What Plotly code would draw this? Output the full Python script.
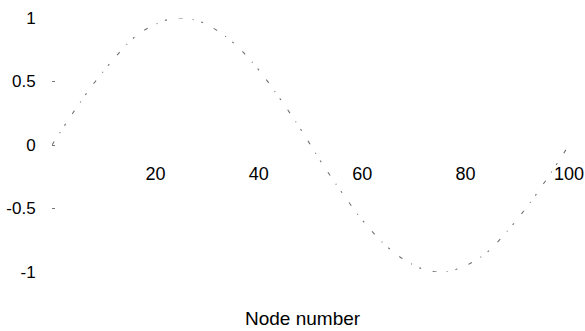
import plotly.graph_objects as go

# Node numbers and displacement values
nodes = [0, 4, 8, 12, 16, 20, 24, 28, 32, 36, 40, 44, 48, 52, 56, 60, 64, 68, 72, 76, 80, 84, 88, 92, 96, 100]
values = [0.0, 0.25, 0.48, 0.68, 0.85, 0.95, 1.0, 0.98, 0.9, 0.77, 0.59, 0.37, 0.13, -0.13, -0.37, -0.59, -0.77, -0.9, -0.98, -1.0, -0.95, -0.85, -0.68, -0.48, -0.25, 0.0]

x_ticks = [20, 40, 60, 80, 100]
y_ticks = [-1, -0.5, 0, 0.5, 1]
y_tick_text = ["-1", "-0.5", "0", "0.5", "1"]

FONT = "Liberation Sans, Arial, sans-serif"

fig = go.Figure()
fig.add_trace(go.Scatter(
    x=nodes, y=values, mode="lines", line_shape="spline",
    line=dict(color="#707070", width=1.1, dash="4px,10px,1px,8px,2px,12px"),
    showlegend=False, hoverinfo="skip",
))
# invisible companion trace so the tick-mark overlay axis is drawn
fig.add_trace(go.Scatter(
    x=nodes, y=values, yaxis="y2", mode="lines", opacity=0,
    line=dict(width=0), showlegend=False, hoverinfo="skip",
))

fig.update_layout(
    width=585, height=331,
    margin=dict(l=52, r=16, t=18, b=59),
    paper_bgcolor="white", plot_bgcolor="white",
    font=dict(family=FONT, color="black", size=18),
    xaxis=dict(
        range=[0, 100], tickvals=x_ticks, ticktext=[str(v) for v in x_ticks],
        showgrid=False, zeroline=False, showline=False,
        ticks="outside", ticklen=12, tickcolor="rgba(0,0,0,0)",
        anchor="free", position=0.5, automargin=False,
        tickfont=dict(size=18, family=FONT),
    ),
    yaxis=dict(
        range=[-1, 1], tickvals=y_ticks, ticktext=y_tick_text,
        showgrid=False, zeroline=False, showline=False,
        ticks="outside", ticklen=12, tickcolor="rgba(0,0,0,0)",
        automargin=False,
        tickfont=dict(size=17, family=FONT),
    ),
    yaxis2=dict(
        range=[-1, 1], tickvals=y_ticks, overlaying="y", side="left",
        showgrid=False, zeroline=False, showline=False, showticklabels=False,
        ticks="inside", ticklen=3, tickwidth=1, tickcolor="#777",
        automargin=False,
    ),
    annotations=[dict(
        text="Node number", xref="paper", yref="paper", x=0.485, y=-0.185,
        xanchor="center", yanchor="middle", showarrow=False,
        font=dict(size=19, family=FONT, color="black"),
    )],
)

fig.write_html("out.html")
